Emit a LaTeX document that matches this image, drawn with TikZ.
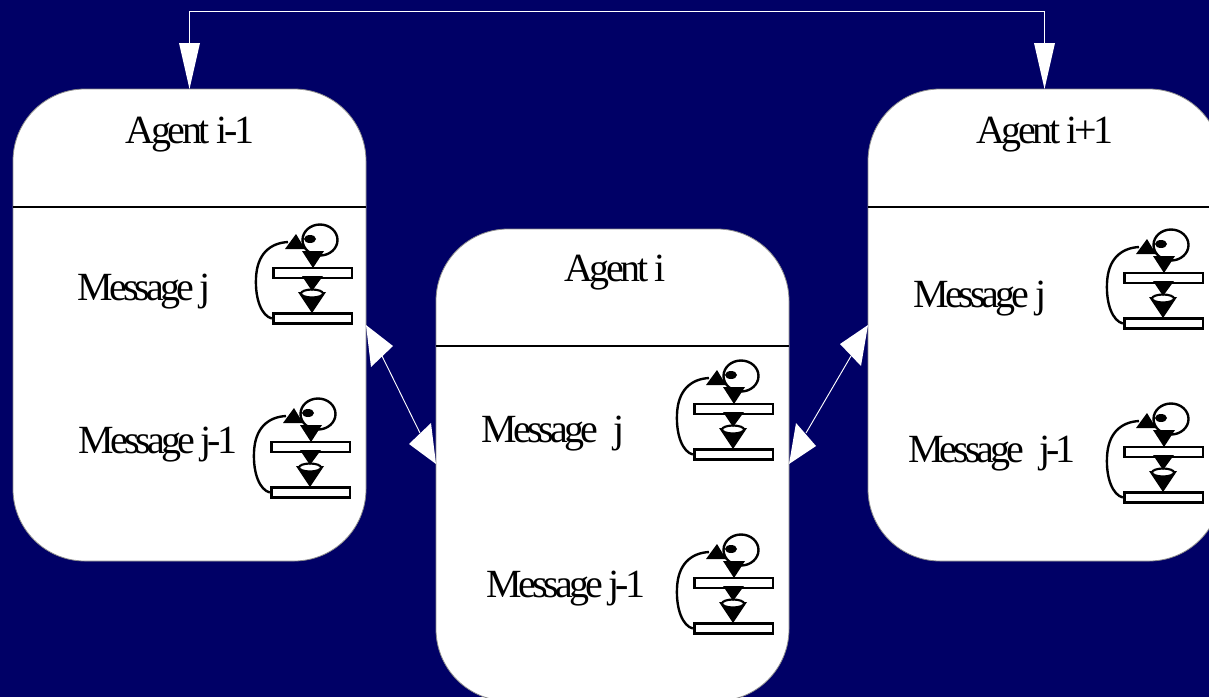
\documentclass[tikz,border=0pt]{standalone}
\usepackage{fontspec}
\setmainfont[LetterSpace=-8.6]{Liberation Serif}
\newfontfamily\msgfont[LetterSpace=-10]{Liberation Serif}
\usetikzlibrary{calc}
\definecolor{navybg}{RGB}{0,0,102}
\tikzset{
  agentbox/.style={draw=black!45,line width=0.6pt,fill=white,rounded corners=54pt,minimum width=264.75pt,minimum height=354pt,inner sep=0pt},
  barbox/.style={draw=black,line width=2pt,fill=white,minimum width=59pt,minimum height=7.5pt,inner sep=0pt},
  label/.style={text=black,font=\fontsize{30pt}{30pt}\selectfont,inner sep=0pt},
  msglabel/.style={text=black,font=\fontsize{30pt}{30pt}\selectfont\msgfont,inner sep=0pt},
  wire/.style={draw=white,line width=0.7pt},
  whitetip/.style={fill=white,draw=none},
  blacktip/.style={fill=black,draw=none},
  divider/.style={draw=black,line width=0.9pt},
  pics/msgicon/.style={code={
    \node[barbox] (-top) at (312.5,273) {};
    \node[barbox] (-bot) at (312.5,318.5) {};
    \draw[black,line width=1.8pt] (320,240) ellipse [x radius=17.5,y radius=15.5];
    \fill[black] (310,239) ellipse [x radius=6,y radius=4];
    \fill[blacktip] (298,292) -- (326,292) -- (312,313) -- cycle;
    \draw[black,line width=1.6pt,fill=white] (312,293.5) ellipse [x radius=11,y radius=4];
    \draw[black,line width=1.8pt] (-bot.west) .. controls (262,316) and (255,300) .. (256,278) .. controls (257,254) and (270,243) .. (288,242);
    \fill[blacktip] (296,234) -- (305,249) -- (285,249) -- cycle;
    \fill[blacktip] (302,251) -- (324,251) -- (313,268) -- cycle;
    \fill[blacktip] (302,276) -- (323,276) -- (312,291) -- cycle;
  }}
}
\begin{document}
\begin{tikzpicture}[x=0.75pt,y=-0.75pt]
\useasboundingbox (0,0) rectangle (1209,697);
\fill[navybg] (0,0) rectangle (1209,697);
\clip (0,0) rectangle (1209,697);

\node[agentbox] (left) at (189.5,325) {};
\node[agentbox] (mid) at (612.5,465) {};
\node[agentbox] (right) at (1044.5,325) {};

\draw[divider] (left.west |- 0,207) -- (left.east |- 0,207);
\draw[divider] (mid.west |- 0,346) -- (mid.east |- 0,346);
\draw[divider] (right.west |- 0,207) -- (right.east |- 0,207);

\node[label] (t1) at (190,135) {Agent i-1};
\node[label] (t2) at (615,273) {Agent i};
\node[label] (t3) at (1045,135) {Agent i+1};

\node[msglabel] (m1) at (144.5,292) {Message j};
\node[msglabel] (m2) at (158,445) {Message j-1};
\node[msglabel] (m3) at (553,434) {Message\hspace{7pt} j};
\node[msglabel] (m4) at (566,589) {Message j-1};
\node[msglabel] (m5) at (980,299) {Message j};
\node[msglabel] (m6) at (992,454) {Message\hspace{7pt} j-1};

\pic (i1) at (0,0) {msgicon};
\pic (i2) at (-2,174) {msgicon};
\pic (i3) at (421,136) {msgicon};
\pic (i4) at (421,310) {msgicon};
\pic (i5) at (851,5) {msgicon};
\pic (i6) at (851,179) {msgicon};

% top connector
\coordinate (ltop) at (189.5,89);
\coordinate (rtop) at (1044.5,89);
\coordinate (lbase) at (189.5,43);
\coordinate (rbase) at (1044.5,43);
\draw[wire] (lbase) -- (189.5,11) -- (1044.5,11) -- (rbase);
\fill[whitetip] (ltop) -- (179,43) -- (200,43) -- cycle;
\fill[whitetip] (rtop) -- (1034,43) -- (1055,43) -- cycle;

% left-middle connector
\coordinate (a) at (366,325);
\coordinate (b) at (436,464);
\draw[wire] (382,356) -- (420,433);
\fill[whitetip] (a) -- (393,346) -- (371,367) -- cycle;
\fill[whitetip] (b) -- (409,444) -- (431,423) -- cycle;

% middle-right connector
\coordinate (c) at (789,464);
\coordinate (d) at (868,325);
\draw[wire] (806,433) -- (851,356);
\fill[whitetip] (c) -- (796,423) -- (816,446) -- cycle;
\fill[whitetip] (d) -- (840,344) -- (861,366) -- cycle;
\end{tikzpicture}
\end{document}
